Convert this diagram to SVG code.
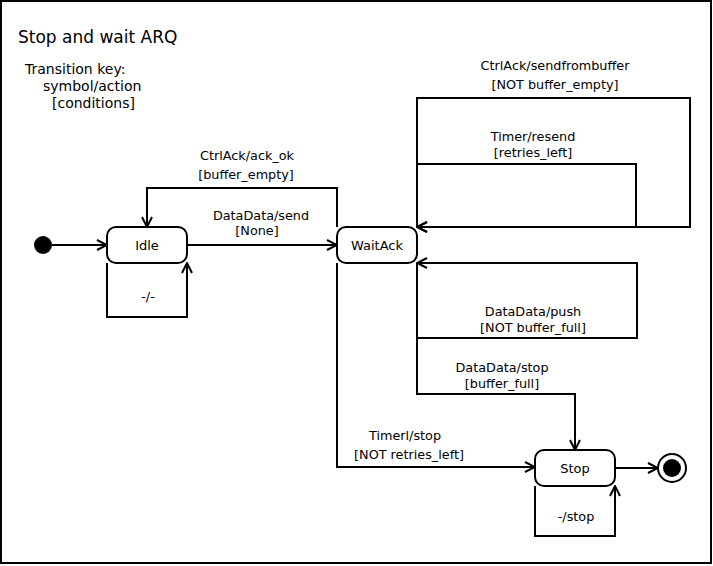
<svg xmlns="http://www.w3.org/2000/svg" width="713" height="566" viewBox="0 0 713 566">
<style>
text{font-family:"DejaVu Sans",sans-serif;fill:#000}
.t{font-size:12.8px;text-anchor:middle}
.n{font-size:13px;text-anchor:middle}
.e{fill:none;stroke:#000;stroke-width:2}
.s{fill:#fff;stroke:#000;stroke-width:2}
</style>
<defs>
<marker id="a" viewBox="0 0 12 12" refX="11" refY="6" markerWidth="12" markerHeight="12" markerUnits="userSpaceOnUse" orient="auto">
<path d="M1,1 L11,6 L1,11" fill="none" stroke="#000" stroke-width="2"/>
</marker>
</defs>
<rect x="1" y="1" width="710" height="562" fill="#fff" stroke="#000" stroke-width="2"/>
<text x="18" y="43" font-size="17">Stop and wait ARQ</text>
<text x="25" y="74" font-size="14">Transition key:</text>
<text x="43" y="91" font-size="14">symbol/action</text>
<text x="52" y="108" font-size="14">[conditions]</text>
<g id="connectors">
<path class="e" d="M52,245 H107" marker-end="url(#a)"/>
<path class="e" d="M187,245 H337" marker-end="url(#a)"/>
<path class="e" d="M107,263 V317 H187 V263" marker-end="url(#a)"/>
<path class="e" d="M337,227 V188 H147 V227" marker-end="url(#a)"/>
<path class="e" d="M417,227 V98 H690 V227 H417" marker-end="url(#a)"/>
<path class="e" d="M417,227 V164 H636 V227 H417" marker-end="url(#a)"/>
<path class="e" d="M417,263 V338 H637 V263 H417" marker-end="url(#a)"/>
<path class="e" d="M417,338 V394 H575 V450" marker-end="url(#a)"/>
<path class="e" d="M337,263 V467 H535" marker-end="url(#a)"/>
<path class="e" d="M535,486 V536 H615 V486" marker-end="url(#a)"/>
<path class="e" d="M615,468 H658" marker-end="url(#a)"/>
<text class="t" x="261" y="220">DataData/send</text>
<text class="t" x="257" y="235">[None]</text>
<text class="t" x="148" y="301">-/-</text>
<text class="t" x="247" y="160">CtrlAck/ack_ok</text>
<text class="t" x="246" y="179">[buffer_empty]</text>
<text class="t" x="555" y="70">CtrlAck/sendfrombuffer</text>
<text class="t" x="555" y="89">[NOT buffer_empty]</text>
<text class="t" x="533" y="141">Timer/resend</text>
<text class="t" x="533" y="157">[retries_left]</text>
<text class="t" x="533" y="316">DataData/push</text>
<text class="t" x="533" y="332">[NOT buffer_full]</text>
<text class="t" x="502" y="372">DataData/stop</text>
<text class="t" x="502" y="388">[buffer_full]</text>
<text class="t" x="405" y="440">Timerl/stop</text>
<text class="t" x="409" y="459">[NOT retries_left]</text>
<text class="t" x="576" y="521">-/stop</text>
</g>
<g id="initial"><circle cx="43" cy="245" r="9" fill="#000"/></g>
<g id="idle"><rect class="s" x="107" y="227" width="80" height="36" rx="9"/><text class="n" x="147" y="250">Idle</text></g>
<g id="waitack"><rect class="s" x="337" y="227" width="80" height="36" rx="9"/><text class="n" x="377" y="250">WaitAck</text></g>
<g id="stop"><rect class="s" x="535" y="450" width="80" height="36" rx="9"/><text class="n" x="575" y="473">Stop</text></g>
<g id="final"><circle cx="672" cy="468" r="14" fill="#fff" stroke="#000" stroke-width="2"/><circle cx="672" cy="468" r="9" fill="#000"/></g>
</svg>
